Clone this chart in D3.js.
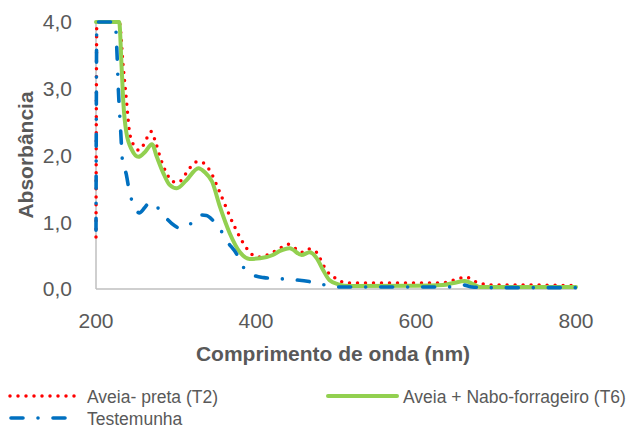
<!DOCTYPE html>
<html>
<head>
<meta charset="utf-8">
<script src="https://cdn.jsdelivr.net/npm/d3@7"></script>
<style>
  html, body { margin: 0; padding: 0; background: #fff; }
  svg { display: block; font-family: "Liberation Sans", Arial, sans-serif; }
</style>
</head>
<body>
<svg id="chart" width="630" height="428"></svg>
<script>
// wavelength (nm) / absorbance pairs
const t2Wave = [200, 201, 229, 234, 238, 242, 247, 254, 259, 264, 269, 274, 280, 288, 296, 303, 313, 322, 328, 334, 342, 355, 371, 384, 396, 405, 414, 421, 430, 440, 449, 457, 465, 474, 480, 484, 490, 497, 505, 513, 540, 580, 620, 638, 646, 655, 663, 672, 680, 690, 740, 800];
const t2Abs  = [0.78, 4.0, 4.0, 3.33, 2.83, 2.34, 2.16, 2.08, 2.15, 2.27, 2.36, 2.22, 1.98, 1.74, 1.61, 1.60, 1.74, 1.88, 1.91, 1.89, 1.78, 1.44, 0.99, 0.69, 0.51, 0.48, 0.51, 0.55, 0.61, 0.67, 0.61, 0.55, 0.60, 0.57, 0.46, 0.36, 0.25, 0.18, 0.12, 0.09, 0.09, 0.09, 0.09, 0.10, 0.13, 0.16, 0.18, 0.12, 0.09, 0.06, 0.06, 0.05];

const t6Wave = [200, 229, 232, 234, 238, 245, 253, 261, 270, 276, 284, 292, 301, 313, 328, 336, 345, 355, 367, 380, 392, 405, 421, 430, 442, 457, 467, 476, 484, 492, 503, 517, 600, 634, 647, 661, 672, 680, 800];
const t6Abs  = [4.0, 4.0, 3.33, 2.83, 2.34, 2.08, 1.98, 2.05, 2.17, 1.98, 1.74, 1.56, 1.51, 1.63, 1.81, 1.75, 1.61, 1.23, 0.84, 0.55, 0.45, 0.46, 0.51, 0.57, 0.61, 0.51, 0.55, 0.46, 0.28, 0.13, 0.07, 0.045, 0.05, 0.06, 0.09, 0.12, 0.07, 0.03, 0.03];

const ctrlWave = [200, 201, 224, 226, 228, 231, 233, 238, 242, 248, 254, 261, 267, 276, 288, 298, 305, 313, 322, 330, 338, 346, 355, 363, 376, 384, 396, 410, 421, 446, 467, 482, 501, 560, 640, 650, 659, 670, 690, 800];
const ctrlAbs  = [0.88, 4.0, 4.0, 3.6, 2.98, 2.34, 1.93, 1.71, 1.44, 1.25, 1.14, 1.22, 1.30, 1.23, 1.06, 0.95, 0.91, 0.93, 1.02, 1.11, 1.10, 1.03, 0.90, 0.73, 0.52, 0.33, 0.21, 0.17, 0.16, 0.14, 0.11, 0.07, 0.03, 0.03, 0.03, 0.05, 0.06, 0.03, 0.02, 0.02];

const xTicks = [200, 400, 600, 800];
const yTicks = [0, 1, 2, 3, 4];

const seriesNames = ['Aveia- preta (T2)', 'Aveia + Nabo-forrageiro (T6)', 'Testemunha'];

const textColor = '#595959';
const axisColor = '#bfbfbf';

const styles = [
  { color: '#ff0000', width: 3.5, dash: '0 8', cap: 'round' },
  { color: '#92d050', width: 4, dash: null, cap: 'round' },
  { color: '#0070c0', width: 3.6, dash: '12 15 0 15', cap: 'round' },
];

const series = [
  t2Wave.map((w, i) => ({ x: w, y: t2Abs[i] })),
  t6Wave.map((w, i) => ({ x: w, y: t6Abs[i] })),
  ctrlWave.map((w, i) => ({ x: w, y: ctrlAbs[i] })),
];

const svg = d3.select('#chart');
svg.append('rect').attr('width', 630).attr('height', 428).attr('fill', '#fff');

const x = d3.scaleLinear().domain([200, 800]).range([96, 576]);
const y = d3.scaleLinear().domain([0, 4]).range([289, 22]);

const fmt = (v) => d3.format('.1f')(v).replace('.', ',');

// axes
svg.append('line')
  .attr('x1', x(200)).attr('x2', x(200))
  .attr('y1', y(4)).attr('y2', y(0))
  .attr('stroke', axisColor).attr('stroke-width', 1.5);
svg.append('line')
  .attr('x1', x(200)).attr('x2', x(800) + 1)
  .attr('y1', y(0)).attr('y2', y(0))
  .attr('stroke', axisColor).attr('stroke-width', 1.5);

svg.append('g').selectAll('text').data(yTicks).join('text')
  .attr('x', 72)
  .attr('y', (d) => y(d))
  .attr('dy', '0.35em')
  .attr('text-anchor', 'end')
  .attr('font-size', '21px')
  .attr('fill', textColor)
  .text(fmt);

svg.append('g').selectAll('text').data(xTicks).join('text')
  .attr('x', (d) => x(d))
  .attr('y', 328)
  .attr('text-anchor', 'middle')
  .attr('font-size', '21px')
  .attr('fill', textColor)
  .text((d) => d);

svg.append('text')
  .attr('x', 333).attr('y', 361)
  .attr('text-anchor', 'middle')
  .attr('font-size', '21px')
  .attr('font-weight', 'bold')
  .attr('fill', textColor)
  .text('Comprimento de onda (nm)');

svg.append('text')
  .attr('transform', 'translate(33,155) rotate(-90)')
  .attr('text-anchor', 'middle')
  .attr('font-size', '21px')
  .attr('font-weight', 'bold')
  .attr('fill', textColor)
  .text('Absorbância');

// series
const line = d3.line()
  .x((d) => x(d.x))
  .y((d) => y(d.y))
  .curve(d3.curveMonotoneX);

svg.append('g').selectAll('path').data(series).join('path')
  .attr('d', line)
  .attr('fill', 'none')
  .attr('stroke', (d, i) => styles[i].color)
  .attr('stroke-width', (d, i) => styles[i].width)
  .attr('stroke-dasharray', (d, i) => styles[i].dash)
  .attr('stroke-linecap', (d, i) => styles[i].cap)
  .attr('stroke-linejoin', 'round');

// legend
const legendPos = [
  { x: 10, y: 396, len: 67 },
  { x: 328, y: 396, len: 69 },
  { x: 11, y: 418, len: 56 },
];
const legendText = [87, 403, 87];

const legend = svg.append('g').selectAll('g').data(seriesNames).join('g');
legend.append('line')
  .attr('x1', (d, i) => legendPos[i].x)
  .attr('x2', (d, i) => legendPos[i].x + legendPos[i].len)
  .attr('y1', (d, i) => legendPos[i].y)
  .attr('y2', (d, i) => legendPos[i].y)
  .attr('stroke', (d, i) => styles[i].color)
  .attr('stroke-width', (d, i) => styles[i].width)
  .attr('stroke-dasharray', (d, i) => styles[i].dash)
  .attr('stroke-linecap', (d, i) => styles[i].cap);
legend.append('text')
  .attr('x', (d, i) => legendText[i])
  .attr('y', (d, i) => legendPos[i].y + 6.5)
  .attr('font-size', '17.5px')
  .attr('fill', textColor)
  .text((d) => d);
</script>
</body>
</html>
